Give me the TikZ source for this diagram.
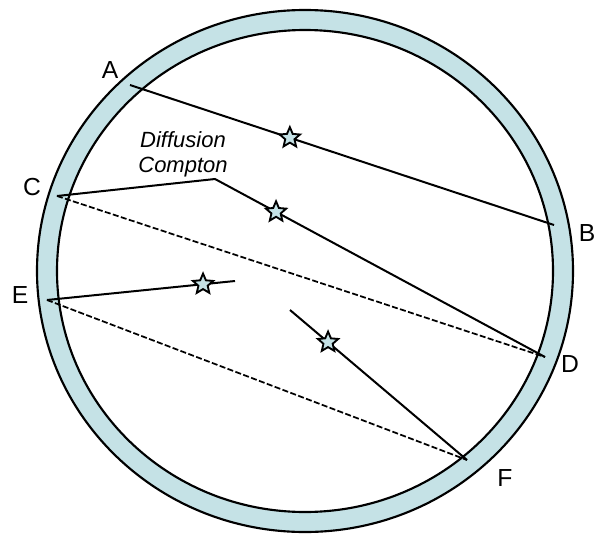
\documentclass[tikz,border=0pt]{standalone}
\usepackage{fontspec}
\setmainfont{Liberation Sans}
\usetikzlibrary{shapes.geometric,calc}
\definecolor{ringblue}{RGB}{197,226,230}

\begin{document}
\begin{tikzpicture}[x=0.75pt, y=-0.75pt,
    every node/.style={font=\fontsize{18.5}{20}\selectfont},
    track/.style={line width=1.5pt},
    escape/.style={line width=1.3pt, dash pattern=on 4.5pt off 1.8pt},
    hit/.style={star, star points=5, star point ratio=2.2, minimum size=16pt,
      inner sep=0pt, fill=ringblue, draw, line width=1.4pt}]
  \useasboundingbox (0,0) rectangle (597,536);
  % detector ring
  \coordinate (O) at (305,271);
  \fill[ringblue, even odd rule] (O) ellipse [x radius=201pt, y radius=195.75pt]
    (O) ellipse [x radius=186pt, y radius=180.75pt];
  \draw[line width=1.6pt] (O) ellipse [x radius=201pt, y radius=195.75pt];
  \draw[line width=1.6pt] (O) ellipse [x radius=186pt, y radius=180.75pt];
  % points on the ring
  \coordinate (A) at (130,85);
  \coordinate (B) at (554,225);
  \coordinate (C) at (57,196);
  \coordinate (D) at (545,357);
  \coordinate (E) at (47,300);
  \coordinate (F) at (467,460);
  \coordinate (K) at (215,179);
  \coordinate (G) at (235,281);
  \coordinate (H) at (290,310);
  % labels
  \node (labA) at (110,70) {A};
  \node (labB) at (587,233) {B};
  \node (labC) at (32,187) {C};
  \node (labD) at (570,364) {D};
  \node (labE) at (20,295) {E};
  \node (labF) at (505,478) {F};
  \node[align=center, font=\fontsize{16.5}{19}\selectfont\itshape] (compton) at (183,154)
    {Diffusion\\Compton};
  % tracks
  \draw[track] (A) -- (B);
  \draw[track] (C) -- (K) -- (D);
  \draw[track] (E) -- (G);
  \draw[track] (H) -- (F);
  \draw[escape] (C) -- (D);
  \draw[escape] (E) -- (F);
  % annihilation points
  \node[hit] (s1) at ($(A)!0.377!(B)$) {};
  \node[hit] (s2) at ($(K)!0.185!(D)$) {};
  \node[hit] (s3) at ($(E)!0.83!(G)$) {};
  \node[hit] (s4) at ($(H)!0.215!(F)$) {};
\end{tikzpicture}
\end{document}
